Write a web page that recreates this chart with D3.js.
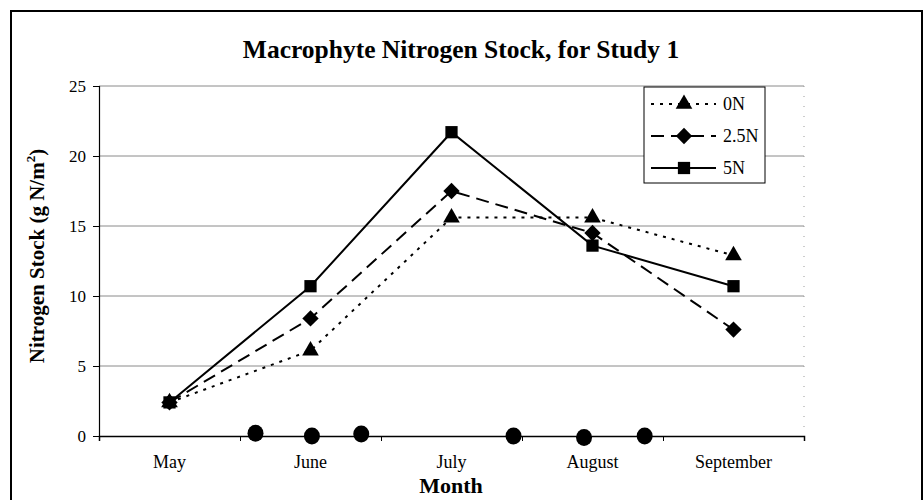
<!DOCTYPE html>
<html lang="en">
<head>
<meta charset="UTF-8">
<title>Macrophyte Nitrogen Stock</title>
<script src="https://cdn.jsdelivr.net/npm/d3@7"></script>
<style>
body { margin: 0; background: #fff; }
text { font-family: "Liberation Serif", "Times New Roman", serif; fill: #000; }
.grid line { stroke: #8a8a8a; stroke-width: 1; }
</style>
</head>
<body>
<svg width="924" height="500"></svg>
<script>
// chart data
const months = ["May", "June", "July", "August", "September"];
const n0 = [2.4, 6.1, 15.6, 15.6, 12.9];
const n25 = [2.4, 8.4, 17.5, 14.5, 7.6];
const n5 = [2.4, 10.7, 21.7, 13.6, 10.7];
const yTicks = [0, 5, 10, 15, 20, 25];
// dots along the zero line (position in month units, May = 0)
const dotPos = [0.61, 1.01, 1.36, 2.44, 2.94, 3.37];
const dotVal = [0.2, 0, 0.15, 0, -0.1, 0];

var svg = d3.select("svg");
var plot = {left: 99, right: 804, top: 86, bottom: 436};

var x = d3.scalePoint().domain(months).range([plot.left, plot.right]).padding(0.5);
var xLin = d3.scaleLinear().domain([0, months.length - 1]).range([x(months[0]), x(months[months.length - 1])]);
var y = d3.scaleLinear().domain([0, 25]).range([plot.bottom, plot.top]);

// outer frame
svg.append("rect")
    .attr("x", 11).attr("y", 11).attr("width", 911).attr("height", 500)
    .attr("fill", "none").attr("stroke", "#000").attr("stroke-width", 2);

svg.append("text")
    .attr("x", 461).attr("y", 58)
    .attr("text-anchor", "middle")
    .style("font-size", "25.5px").style("font-weight", "bold")
    .text("Macrophyte Nitrogen Stock, for Study 1");

// gridlines
svg.append("g").attr("class", "grid")
  .selectAll("line")
  .data(yTicks.filter(function(d) { return d > 0; }))
  .enter().append("line")
    .attr("x1", plot.left).attr("x2", plot.right)
    .attr("y1", function(d) { return y(d); })
    .attr("y2", function(d) { return y(d); });

// right border of plot, faint dotted
svg.append("line")
    .attr("x1", plot.right).attr("x2", plot.right).attr("y1", plot.top).attr("y2", plot.bottom)
    .attr("stroke", "#999").attr("stroke-dasharray", "1,9");

var yAxis = svg.append("g")
    .attr("transform", "translate(" + plot.left + ",0)")
    .call(d3.axisLeft(y).tickValues(yTicks).tickSize(6).tickPadding(7));
yAxis.selectAll("text").style("font-size", "17px").style("font-family", "Liberation Serif");
yAxis.select(".domain").attr("stroke-width", 1.2);

var xAxis = svg.append("g")
    .attr("transform", "translate(0," + plot.bottom + ")")
    .call(d3.axisBottom(d3.scaleLinear().domain([0, 5]).range([plot.left, plot.right]))
      .ticks(5).tickSize(5).tickFormat(""));
xAxis.select(".domain").attr("stroke-width", 1.5);

svg.append("g").selectAll("text")
  .data(months)
  .enter().append("text")
    .attr("x", function(d) { return x(d); })
    .attr("y", 468)
    .attr("text-anchor", "middle")
    .style("font-size", "18px")
    .text(function(d) { return d; });

svg.append("text")
    .attr("x", 451).attr("y", 493)
    .attr("text-anchor", "middle")
    .style("font-size", "22px").style("font-weight", "bold")
    .text("Month");

var yl = svg.append("text")
    .attr("transform", "translate(44,256) rotate(-90)")
    .attr("text-anchor", "middle")
    .style("font-size", "21px").style("font-weight", "bold");
yl.append("tspan").text("Nitrogen Stock (g N/m");
yl.append("tspan").attr("dy", -9).style("font-size", "13px").text("2");
yl.append("tspan").attr("dy", 9).text(")");

var series = [
  {name: "0N", values: n0, dash: "3,6", symbol: d3.symbolTriangle, size: 120},
  {name: "2.5N", values: n25, dash: "13,7", symbol: d3.symbolDiamond2, size: 170},
  {name: "5N", values: n5, dash: null, symbol: d3.symbolSquare, size: 150}
];

var line = d3.line()
    .x(function(d, i) { return x(months[i]); })
    .y(function(d) { return y(d); });

series.forEach(function(s) {
  svg.append("path")
      .datum(s.values)
      .attr("d", line)
      .attr("fill", "none")
      .attr("stroke", "#000")
      .attr("stroke-width", 2)
      .attr("stroke-dasharray", s.dash);
  svg.append("g").selectAll("path")
    .data(s.values)
    .enter().append("path")
      .attr("transform", function(d, i) { return "translate(" + x(months[i]) + "," + y(d) + ")"; })
      .attr("d", d3.symbol().type(s.symbol).size(s.size));
});

// dots on baseline
svg.append("g").selectAll("ellipse")
  .data(dotPos)
  .enter().append("ellipse")
    .attr("cx", function(d) { return xLin(d); })
    .attr("cy", function(d, i) { return y(dotVal[i]); })
    .attr("rx", 8).attr("ry", 8.5)
    .attr("fill", "#000");

// legend
var lg = svg.append("g").attr("transform", "translate(644,87)");
lg.append("rect")
    .attr("width", 121).attr("height", 96)
    .attr("fill", "#fff").attr("stroke", "#000").attr("stroke-width", 1);
series.forEach(function(s, i) {
  var row = lg.append("g").attr("transform", "translate(0," + (17 + i * 32) + ")");
  row.append("line")
      .attr("x1", 7).attr("x2", 72)
      .attr("stroke", "#000").attr("stroke-width", 2)
      .attr("stroke-dasharray", s.dash);
  row.append("path")
      .attr("transform", "translate(40,0)")
      .attr("d", d3.symbol().type(s.symbol).size(s.size));
  row.append("text")
      .attr("x", 79).attr("y", 6)
      .style("font-size", "18px")
      .text(s.name);
});
</script>
</body>
</html>
